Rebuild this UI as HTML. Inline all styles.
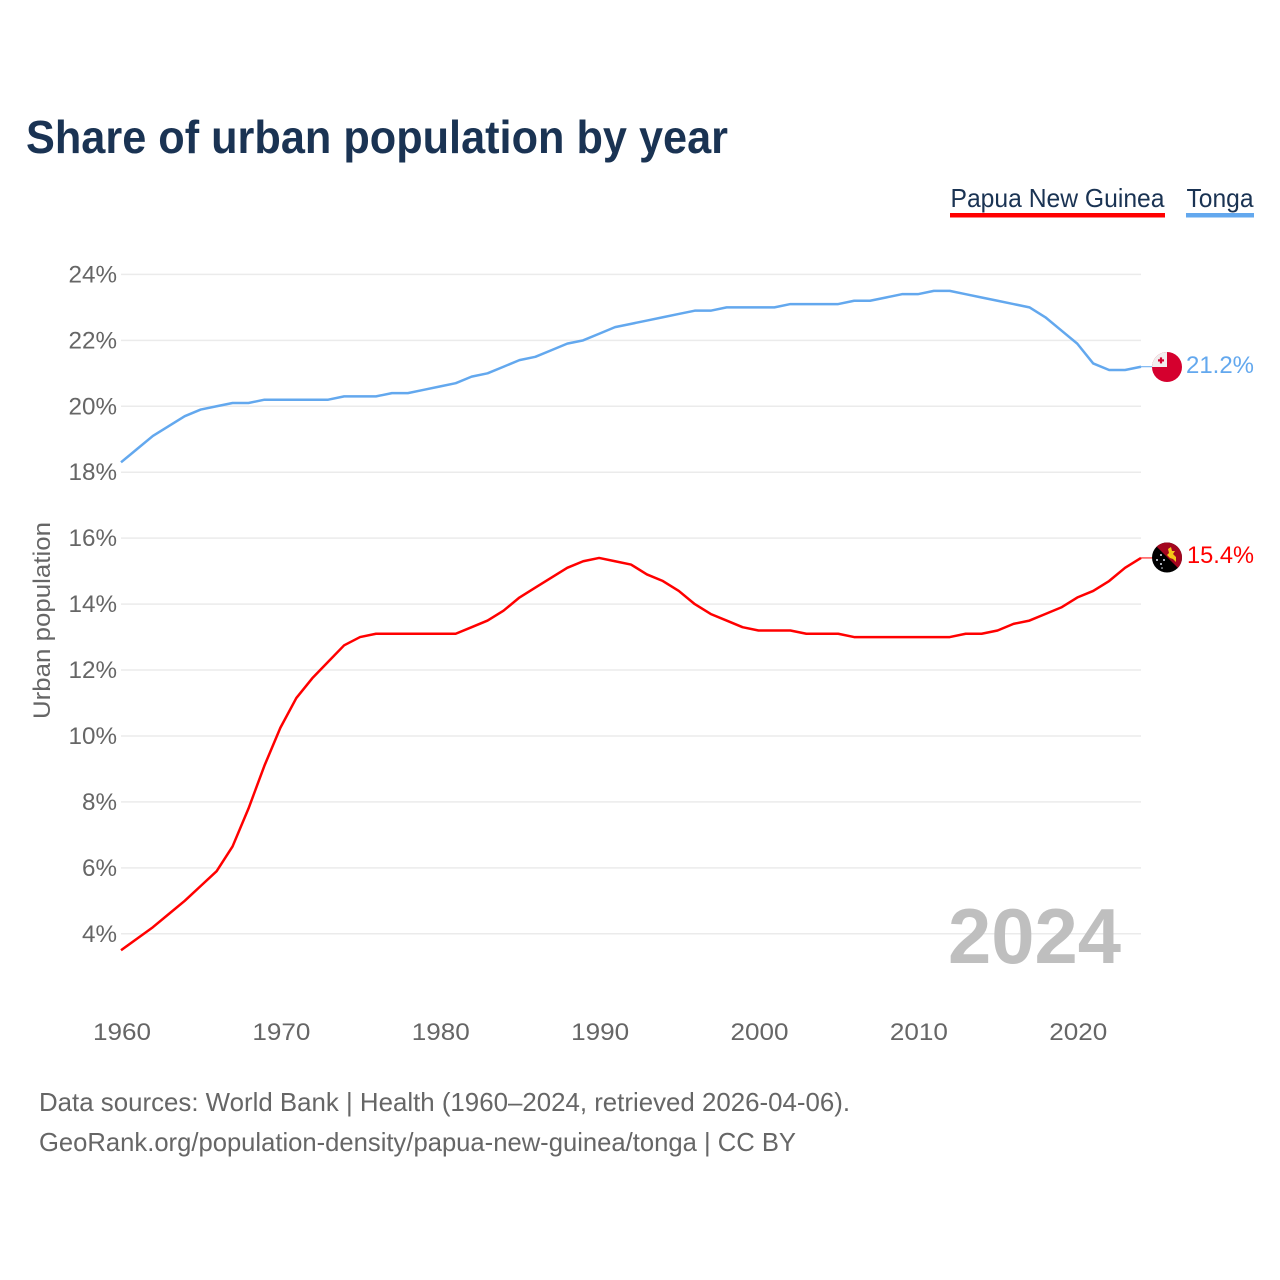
<!DOCTYPE html>
<html lang="en">
<head>
<meta charset="utf-8">
<title>Share of urban population by year</title>
<style>
html,body{margin:0;padding:0;background:#fff;width:1280px;height:1280px;overflow:hidden}
svg{display:block}
text{font-family:"Liberation Sans",sans-serif}
</style>
</head>
<body>
<svg id="chart" xmlns="http://www.w3.org/2000/svg" width="1280" height="1280" viewBox="0 0 1280 1280">
  <defs>
    <clipPath id="flag-clip-tonga"><circle cx="1167" cy="367" r="15"/></clipPath>
    <clipPath id="flag-clip-png"><circle cx="1167" cy="557.5" r="15"/></clipPath>
  </defs>
  <text x="26" y="153" font-size="46" font-weight="700" fill="#1a3353" textLength="702" lengthAdjust="spacingAndGlyphs">Share of urban population by year</text>

  <g>
    <g>
      <text x="950.5" y="207" font-size="26" fill="#1a3353" textLength="214" lengthAdjust="spacingAndGlyphs">Papua New Guinea</text>
      <rect x="950" y="213" width="215" height="4.5" fill="#ff0000"/>
    </g>
    <g>
      <text x="1186.5" y="207" font-size="26" fill="#1a3353" textLength="67" lengthAdjust="spacingAndGlyphs">Tonga</text>
      <rect x="1186" y="213" width="68" height="4.5" fill="#63a8ee"/>
    </g>
  </g>

  <g id="grid"></g>
  <g id="y-ticks"></g>
  <g id="x-ticks"></g>

  <text transform="translate(50,620.5) rotate(-90)" text-anchor="middle" font-size="24" fill="#666666" textLength="197" lengthAdjust="spacingAndGlyphs">Urban population</text>

  <text x="948" y="963" font-size="78" font-weight="700" fill="#bfbfbf" textLength="173" lengthAdjust="spacingAndGlyphs">2024</text>

  <g id="series"></g>

  <g clip-path="url(#flag-clip-tonga)">
    <rect x="1150" y="350" width="34" height="34" fill="#d5002e"/>
    <rect x="1150" y="350" width="17" height="17" fill="#f1eeee"/>
    <rect x="1158" y="359.3" width="6" height="2.2" fill="#d5002e"/>
    <rect x="1159.9" y="357.4" width="2.2" height="6" fill="#d5002e"/>
  </g>
  <g clip-path="url(#flag-clip-png)">
    <rect x="1150" y="540" width="34" height="34" fill="#000000"/>
    <polygon points="1150,540 1184,540 1184,574" fill="#a3061f"/>
    <polygon points="1168,549 1171,547 1172,551 1175,551 1173,554 1176,557 1176,562 1173,559 1170,558 1167,555 1169,553" fill="#f5c518"/>
    <circle cx="1161" cy="555" r="1" fill="#dfe6f2"/>
    <circle cx="1157" cy="560" r="1" fill="#dfe6f2"/>
    <circle cx="1164" cy="560" r="1" fill="#dfe6f2"/>
    <circle cx="1161" cy="564" r="1" fill="#dfe6f2"/>
    <circle cx="1162" cy="568" r="0.8" fill="#dfe6f2"/>
  </g>

  <text id="end-label-tonga" x="1186" y="373" font-size="24" fill="#63a8ee" textLength="68" lengthAdjust="spacingAndGlyphs"></text>
  <text id="end-label-png" x="1187" y="563" font-size="24" fill="#ff0000" textLength="67" lengthAdjust="spacingAndGlyphs"></text>

  <text x="39" y="1111" font-size="26" fill="#666666" textLength="811" lengthAdjust="spacingAndGlyphs">Data sources: World Bank | Health (1960–2024, retrieved 2026-04-06).</text>
  <text x="39" y="1151" font-size="26" fill="#666666" textLength="757" lengthAdjust="spacingAndGlyphs">GeoRank.org/population-density/papua-new-guinea/tonga | CC BY</text>
</svg>
<script>
var startYear = 1960;
var yTickValues = [4, 6, 8, 10, 12, 14, 16, 18, 20, 22, 24];
var xTickValues = [1960, 1970, 1980, 1990, 2000, 2010, 2020];
var papuaValues = [3.5, 3.85, 4.2, 4.6, 5.0, 5.45, 5.9, 6.65, 7.8, 9.1, 10.25, 11.15, 11.75, 12.25, 12.75, 13.0, 13.1, 13.1, 13.1, 13.1, 13.1, 13.1, 13.3, 13.5, 13.8, 14.2, 14.5, 14.8, 15.1, 15.3, 15.4, 15.3, 15.2, 14.9, 14.7, 14.4, 14.0, 13.7, 13.5, 13.3, 13.2, 13.2, 13.2, 13.1, 13.1, 13.1, 13.0, 13.0, 13.0, 13.0, 13.0, 13.0, 13.0, 13.1, 13.1, 13.2, 13.4, 13.5, 13.7, 13.9, 14.2, 14.4, 14.7, 15.1, 15.4];
var tongaValues = [18.3, 18.7, 19.1, 19.4, 19.7, 19.9, 20.0, 20.1, 20.1, 20.2, 20.2, 20.2, 20.2, 20.2, 20.3, 20.3, 20.3, 20.4, 20.4, 20.5, 20.6, 20.7, 20.9, 21.0, 21.2, 21.4, 21.5, 21.7, 21.9, 22.0, 22.2, 22.4, 22.5, 22.6, 22.7, 22.8, 22.9, 22.9, 23.0, 23.0, 23.0, 23.0, 23.1, 23.1, 23.1, 23.1, 23.2, 23.2, 23.3, 23.4, 23.4, 23.5, 23.5, 23.4, 23.3, 23.2, 23.1, 23.0, 22.7, 22.3, 21.9, 21.3, 21.1, 21.1, 21.2];

var NS = 'http://www.w3.org/2000/svg';
function xScale(year) { return 121 + (year - 1960) * (1141 - 121) / 64; }
function yScale(v) { return 933.8 - (v - 4) * 32.97; }
function make(tag, attrs, parent) {
  var el = document.createElementNS(NS, tag);
  for (var k in attrs) { el.setAttribute(k, attrs[k]); }
  parent.appendChild(el);
  return el;
}
var gridG = document.getElementById('grid');
var yG = document.getElementById('y-ticks');
var xG = document.getElementById('x-ticks');
var seriesG = document.getElementById('series');

yTickValues.forEach(function (v) {
  var line = make('line', {x1: 121, x2: 1141, y1: yScale(v), y2: yScale(v), stroke: '#ebebeb', 'stroke-width': 1.5}, gridG);
  
  
  var t = make('text', {x: 117, y: yScale(v) + 8, 'text-anchor': 'end', 'font-size': 24, fill: '#666666'}, yG);
  t.setAttribute('textLength', v < 10 ? 35 : 48.5);
  t.setAttribute('lengthAdjust', 'spacingAndGlyphs');
  t.textContent = v + '%';
  
  
});

xTickValues.forEach(function (year) {
  var t = make('text', {x: xScale(year) + 1, y: 1040, 'text-anchor': 'middle', 'font-size': 24, fill: '#666666'}, xG);
  t.setAttribute('textLength', 58);
  t.setAttribute('lengthAdjust', 'spacingAndGlyphs');
  t.textContent = year;
  
  
});

function linePoints(values) {
  return values.map(function (v, i) {
    return xScale(startYear + i).toFixed(2) + ',' + yScale(v).toFixed(2);
  }).join(' ');
}
function lastPoint(values) {
  return { x: xScale(startYear + values.length - 1), y: yScale(values[values.length - 1]) };
}

var papuaLine = make('polyline', {points: linePoints(papuaValues), fill: 'none', stroke: '#ff0000', 'stroke-width': 2.5, 'stroke-linejoin': 'round'}, seriesG);


var tongaLine = make('polyline', {points: linePoints(tongaValues), fill: 'none', stroke: '#63a8ee', 'stroke-width': 2.5, 'stroke-linejoin': 'round'}, seriesG);



var papuaEnd = lastPoint(papuaValues);
var papuaStub = make('line', {x1: papuaEnd.x, x2: papuaEnd.x + 12, y1: papuaEnd.y, y2: papuaEnd.y, stroke: '#ff0000', 'stroke-width': 1}, seriesG);


var tongaEnd = lastPoint(tongaValues);
var tongaStub = make('line', {x1: tongaEnd.x, x2: tongaEnd.x + 12, y1: tongaEnd.y, y2: tongaEnd.y, stroke: '#63a8ee', 'stroke-width': 1}, seriesG);



document.getElementById('end-label-tonga').textContent = tongaValues[tongaValues.length - 1].toFixed(1) + '%';
document.getElementById('end-label-png').textContent = papuaValues[papuaValues.length - 1].toFixed(1) + '%';
</script>
</body>
</html>
